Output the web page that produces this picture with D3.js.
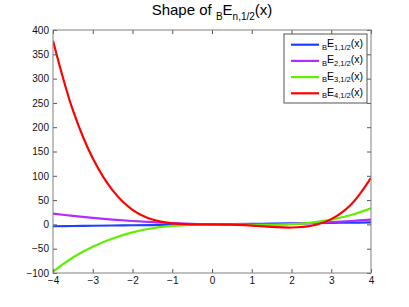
<!DOCTYPE html>
<html>
<head>
<meta charset="utf-8">
<script src="https://cdn.jsdelivr.net/npm/d3@7"></script>
<style>
  body { margin: 0; background: #fff; }
  text { font-family: "Liberation Sans", Arial, sans-serif; }
</style>
</head>
<body>
<svg id="canvas"></svg>
<script>
// values, x = -4 .. 4 in steps of 0.5
const xs = [-4, -3.5, -3, -2.5, -2, -1.5, -1, -0.5, 0, 0.5, 1, 1.5, 2, 2.5, 3, 3.5, 4];
const e1 = [-3.8, -3.3, -2.8, -2.3, -1.8, -1.3, -0.8, -0.3, 0.1, 0.6, 1.1, 1.6, 2.1, 2.6, 3.1, 3.6, 4.1];
const e2 = [22, 17.5, 13.5, 10, 7, 4.5, 2.5, 1, 0, -0.5, -0.5, 0, 1, 2.5, 4.5, 7, 10];
const e3 = [-97, -68, -46, -29, -16.5, -8, -3.2, -0.8, 0, -0.3, -0.8, -0.8, 0.5, 3.8, 9.8, 19.3, 33];
const e4 = [378, 235, 136, 70, 30, 10, 2, 0, 0, -0.5, -2.4, -5, -6.4, -2.8, 10.9, 41, 96];

const seriesNames = ["1,1/2", "2,1/2", "3,1/2", "4,1/2"];
const seriesColors = ["#1f3fff", "#b02cff", "#5ef000", "#ff0000"];
const allSeries = [e1, e2, e3, e4];

const xTicks = [-4, -3, -2, -1, 0, 1, 2, 3, 4];
const yTicks = [-100, -50, 0, 50, 100, 150, 200, 250, 300, 350, 400];

const width = 409;
const height = 307;
const margin = { top: 30, right: 38, bottom: 34, left: 53 };

const svg = d3.select("#canvas")
  .attr("width", width)
  .attr("height", height);

const chartWidth = width - margin.left - margin.right;
const chartHeight = height - margin.top - margin.bottom;

const chartArea = svg.append("g")
  .attr("transform", `translate(${margin.left},${margin.top})`);

const x = d3.scaleLinear().domain([-4, 4]).range([0, chartWidth]);
const y = d3.scaleLinear().domain([-100, 400]).range([chartHeight, 0]);

const fmt = d => (d < 0 ? "\u2212" + Math.abs(d) : "" + d);

chartArea.append("defs").append("clipPath")
  .attr("id", "clip")
  .append("rect")
  .attr("width", chartWidth)
  .attr("height", chartHeight);

// curves
const line = d3.line()
  .x(d => x(d[0]))
  .y(d => y(d[1]))
  .curve(d3.curveCatmullRom.alpha(0.5));

chartArea.append("g")
  .attr("clip-path", "url(#clip)")
  .selectAll("path")
  .data(allSeries)
  .enter().append("path")
  .attr("d", vals => line(xs.map((v, i) => [v, vals[i]])))
  .attr("fill", "none")
  .attr("stroke", (d, i) => seriesColors[i])
  .attr("stroke-width", 2.2);

// axes with inward ticks on all four sides
const xAxis = d3.axisBottom(x).tickValues(xTicks).tickFormat(fmt)
  .tickSizeInner(-4).tickSizeOuter(0).tickPadding(4);
const yAxis = d3.axisLeft(y).tickValues(yTicks).tickFormat(fmt)
  .tickSizeInner(-4).tickSizeOuter(0).tickPadding(4);

chartArea.append("g")
  .attr("transform", `translate(0, ${chartHeight})`)
  .call(xAxis);
chartArea.append("g").call(yAxis);

chartArea.append("g")
  .call(d3.axisTop(x).tickValues(xTicks).tickFormat("").tickSizeInner(-4).tickSizeOuter(0));
chartArea.append("g")
  .attr("transform", `translate(${chartWidth}, 0)`)
  .call(d3.axisRight(y).tickValues(yTicks).tickFormat("").tickSizeInner(-4).tickSizeOuter(0));

chartArea.selectAll(".domain").remove();
chartArea.selectAll(".tick line").attr("stroke", "#555");
chartArea.selectAll(".tick text")
  .attr("font-size", 10)
  .attr("font-family", "Liberation Sans, Arial, sans-serif")
  .attr("fill", "#111");

chartArea.append("rect")
  .attr("width", chartWidth)
  .attr("height", chartHeight)
  .attr("fill", "none")
  .attr("stroke", "#808080")
  .attr("stroke-width", 1);

// title
const title = svg.append("text")
  .attr("x", margin.left + chartWidth / 2)
  .attr("y", 15)
  .attr("text-anchor", "middle")
  .attr("font-size", 15)
  .attr("fill", "#000");
title.append("tspan").text("Shape of ");
title.append("tspan").attr("font-size", 10).attr("dy", 5).text("B");
title.append("tspan").attr("dy", -5).text("E");
title.append("tspan").attr("font-size", 10).attr("dy", 5).text("n,1/2");
title.append("tspan").attr("dy", -5).text("(x)");

// legend
const legend = svg.append("g").attr("transform", "translate(284, 34)");
legend.append("rect")
  .attr("width", 83)
  .attr("height", 69)
  .attr("fill", "#fff")
  .attr("stroke", "#555")
  .attr("stroke-width", 1);

const entries = legend.selectAll(".entry")
  .data(seriesNames)
  .enter().append("g")
  .attr("transform", (d, i) => `translate(0, ${10.7 + i * 16.2})`);

entries.append("line")
  .attr("x1", 7).attr("x2", 35)
  .attr("stroke", (d, i) => seriesColors[i])
  .attr("stroke-width", 2.2);

const label = entries.append("text")
  .attr("x", 38)
  .attr("y", 2.5)
  .attr("font-size", 10.5)
  .attr("fill", "#000");
label.append("tspan").attr("font-size", 7.5).attr("dy", 2.5).text("B");
label.append("tspan").attr("dy", -2.5).text("E");
label.append("tspan").attr("font-size", 7.5).attr("dy", 2.5).text(d => d);
label.append("tspan").attr("dy", -2.5).text("(x)");
</script>
</body>
</html>
